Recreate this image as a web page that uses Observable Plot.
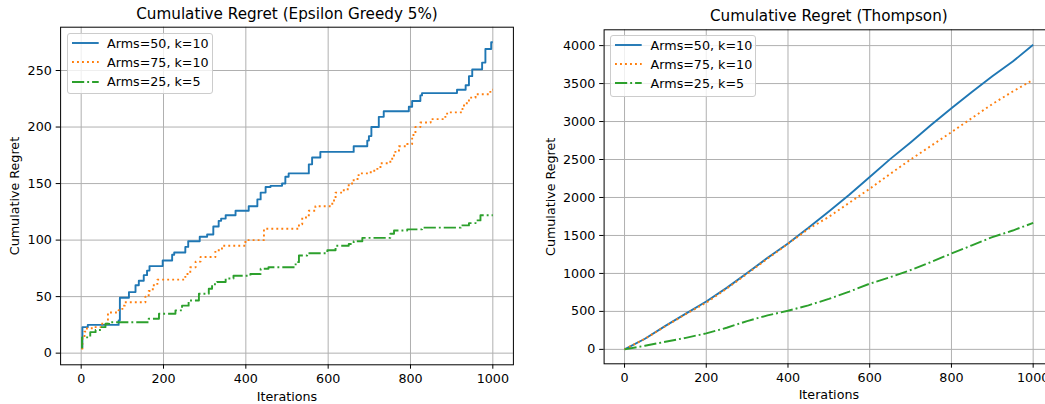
<!DOCTYPE html>
<html><head><meta charset="utf-8">
<script src="https://cdn.jsdelivr.net/npm/d3@7"></script>
<script src="https://cdn.jsdelivr.net/npm/@observablehq/plot@0.6"></script>
<style>
html,body{margin:0;padding:0;background:#fff;overflow:hidden;width:1045px;height:404px}
#wrap{position:relative;width:1045px;height:404px;overflow:hidden;font-family:"DejaVu Sans",sans-serif;background:#fff}
.panel{position:absolute;top:0}
.legend{position:absolute;border:1px solid #cccccc;border-radius:3px;background:rgba(255,255,255,0.8);box-sizing:border-box}
.row{position:absolute;left:0;height:20px;display:flex;align-items:center;font-size:12.7px;color:#000;white-space:nowrap}
.row svg{position:absolute;left:4px}
.row span{position:absolute;left:39.3px}
</style></head><body><div id="wrap"></div>
<script>
// ---------- data ----------
const seriesNames = ["Arms=50, k=10", "Arms=75, k=10", "Arms=25, k=5"];

// Epsilon Greedy 5% (step series: iteration where value changes)
const epsIter50 = [0, 3, 16, 84, 91, 94, 116, 132, 140, 152, 160, 166, 198, 221, 226, 253, 260, 288, 306, 321, 334, 340, 351, 375, 407, 428, 436, 448, 460, 488, 496, 504, 553, 561, 581, 662, 695, 699, 705, 723, 735, 796, 804, 824, 828, 913, 934, 942, 950, 974, 982, 996, 1000];
const epsRegret50 = [5, 23, 25, 25, 29, 49, 54, 60, 64, 69, 73, 77, 82, 87, 89, 94, 99, 103, 105, 112, 117, 119, 122, 126, 130, 136, 142, 147, 148, 150, 156, 159, 167, 173, 178, 183, 188, 192, 200, 209, 214, 218, 223, 228, 230, 233, 237, 245, 251, 257, 269, 275, 275];

const epsIter75 = [0, 3, 8, 14, 30, 48, 65, 91, 100, 106, 156, 164, 174, 185, 253, 265, 278, 290, 326, 342, 399, 444, 529, 537, 553, 569, 610, 618, 638, 650, 662, 674, 699, 712, 727, 751, 760, 772, 792, 804, 812, 824, 849, 881, 889, 926, 930, 942, 958, 994, 1000];
const epsRegret75 = [4, 14, 19, 22, 23, 26, 36, 38, 42, 45, 50, 55, 60, 65, 70, 76, 81, 85, 91, 95, 100, 110, 114, 120, 126, 130, 135, 142, 145, 150, 154, 159, 160, 163, 168, 172, 178, 183, 185, 193, 200, 204, 207, 209, 213, 216, 221, 226, 229, 233, 233];

const epsIter25 = [0, 2, 22, 35, 48, 59, 68, 164, 189, 229, 245, 261, 286, 310, 318, 330, 351, 370, 411, 436, 455, 521, 529, 549, 598, 618, 650, 662, 683, 751, 760, 792, 828, 922, 942, 958, 970, 1000];
const epsRegret25 = [5, 14, 18.6, 20.5, 23, 26, 27.4, 30.4, 34.8, 37.8, 42, 46.6, 52.5, 57, 61, 63, 66, 68.5, 70, 74.6, 76, 80.5, 86.4, 88.4, 91, 95, 96.6, 99, 102, 105.6, 108.5, 109.5, 111, 113, 115, 117.4, 122, 122];

// Thompson
const thIter = [0, 50, 100, 150, 200, 250, 300, 350, 400, 450, 500, 550, 600, 650, 700, 750, 800, 850, 900, 950, 1000];
const thRegret50 = [0, 140, 310, 470, 630, 810, 1005, 1205, 1395, 1600, 1815, 2035, 2270, 2505, 2725, 2955, 3175, 3390, 3595, 3790, 4010];
const thRegret75 = [0, 140, 305, 465, 615, 800, 995, 1195, 1390, 1585, 1745, 1930, 2115, 2310, 2500, 2680, 2860, 3045, 3230, 3395, 3550];
const thRegret25 = [0, 48, 100, 152, 210, 285, 372, 448, 508, 580, 665, 760, 865, 950, 1045, 1150, 1262, 1370, 1478, 1565, 1665];

const xTicks = [0, 200, 400, 600, 800, 1000];
const epsYTicks = [0, 50, 100, 150, 200, 250];
const thYTicks = [0, 500, 1000, 1500, 2000, 2500, 3000, 3500, 4000];

// ---------- styles ----------
const colors = ["#1f77b4", "#ff7f0e", "#2ca02c"];
const dashes = [null, "1.9,3.1", "12.2,3,1.9,3"];

const toRows = (xs, ys) => xs.map((x, i) => ({iter: x, value: ys[i]}));

function makePanel(opt) {
  const marks = [
    Plot.gridX(xTicks, {stroke: "#b0b0b0", strokeOpacity: 1, strokeWidth: 1}),
    Plot.gridY(opt.yTicks, {stroke: "#b0b0b0", strokeOpacity: 1, strokeWidth: 1}),
    ...opt.series.map((rows, i) => Plot.line(rows, {
      x: "iter", y: "value", stroke: colors[i], strokeWidth: 1.9,
      strokeDasharray: dashes[i], curve: opt.curve, strokeLinecap: "butt"
    })),
    Plot.frame({stroke: "#000", strokeWidth: 1}),
    Plot.axisX(xTicks, {tickSize: 4.4, tickPadding: 4.4, tickFormat: "d",
      label: "Iterations", labelAnchor: "center", labelArrow: "none", labelOffset: opt.xLabelOffset}),
    Plot.axisY(opt.yTicks, {tickSize: 4.4, tickPadding: 4.4, tickFormat: "d",
      label: "Cumulative Regret", labelAnchor: "center", labelArrow: "none", labelOffset: opt.yLabelOffset}),
    Plot.text([opt.title], {text: d => d, frameAnchor: "top", lineAnchor: "bottom", dy: opt.titleDy, fontSize: 15.2})
  ];
  return Plot.plot({
    width: opt.width, height: 404,
    marginLeft: opt.ml, marginRight: opt.mr, marginTop: opt.mt, marginBottom: opt.mb,
    x: {domain: [-50, 1050]},
    y: {domain: opt.yDomain},
    style: {fontFamily: "DejaVu Sans", fontSize: "12.7px", color: "#000", background: "transparent", overflow: "visible"},
    marks
  });
}

function makeLegend(left, top, width, height) {
  const box = document.createElement("div");
  box.className = "legend";
  Object.assign(box.style, {left: left + "px", top: top + "px", width: width + "px", height: height + "px"});
  const centers = [10, 29.2, 48.4];
  seriesNames.forEach((name, i) => {
    const row = document.createElement("div");
    row.className = "row";
    row.style.top = (centers[i] - 10 - 1) + "px";
    row.style.width = width + "px";
    const ns = "http://www.w3.org/2000/svg";
    const svg = document.createElementNS(ns, "svg");
    svg.setAttribute("width", 27); svg.setAttribute("height", 6);
    const ln = document.createElementNS(ns, "line");
    ln.setAttribute("x1", 0); ln.setAttribute("x2", 26.7);
    ln.setAttribute("y1", 3); ln.setAttribute("y2", 3);
    ln.setAttribute("stroke", colors[i]); ln.setAttribute("stroke-width", 1.9);
    if (dashes[i]) ln.setAttribute("stroke-dasharray", dashes[i]);
    svg.appendChild(ln);
    const sp = document.createElement("span");
    sp.textContent = name;
    row.appendChild(svg); row.appendChild(sp);
    box.appendChild(row);
  });
  return box;
}

const wrap = document.getElementById("wrap");

const left = document.createElement("div");
left.className = "panel"; left.style.left = "0px"; left.style.width = "520px";
left.appendChild(makePanel({
  title: "Cumulative Regret (Epsilon Greedy 5%)",
  series: [toRows(epsIter50, epsRegret50), toRows(epsIter75, epsRegret75), toRows(epsIter25, epsRegret25)],
  yTicks: epsYTicks, yDomain: [-10.3, 288.3], curve: "step-after",
  width: 520, ml: 60.1, mr: 7.1, mt: 26.7, mb: 404 - 364.3,
  xLabelOffset: 35.7, yLabelOffset: 51, titleDy: -8.4
}));
wrap.appendChild(left);

const right = document.createElement("div");
right.className = "panel"; right.style.left = "525px"; right.style.width = "535px";
right.appendChild(makePanel({
  title: "Cumulative Regret (Thompson)",
  series: [toRows(thIter, thRegret50), toRows(thIter, thRegret75), toRows(thIter, thRegret25)],
  yTicks: thYTicks, yDomain: [-190, 4208], curve: "linear",
  width: 535, ml: 78.6, mr: 6.9, mt: 29.3, mb: 404 - 363.3,
  xLabelOffset: 35, yLabelOffset: 58, titleDy: -8.6
}));
wrap.appendChild(right);

wrap.appendChild(makeLegend(66.7, 33.3, 146.6, 60.7));
wrap.appendChild(makeLegend(610.3, 35, 145.7, 61.7));
</script></body></html>
